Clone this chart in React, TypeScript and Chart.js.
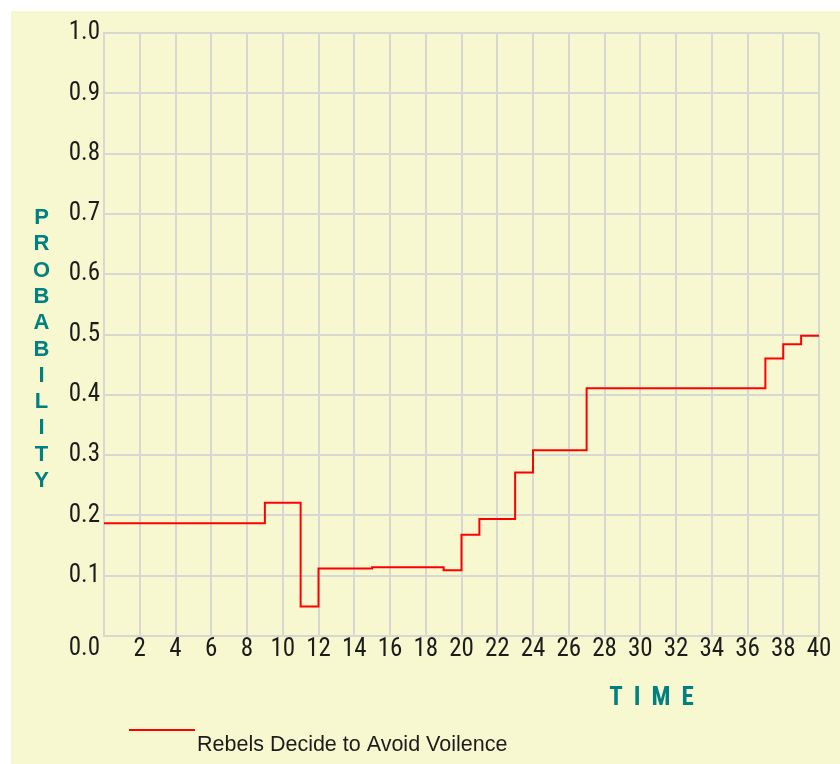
import React, { useEffect, useRef } from "react";
import { Chart, registerables } from "chart.js";

Chart.register(...registerables);

// ---- data ----
const TIME_POINTS = [0, 9, 11, 12, 15, 19, 20, 21, 23, 24, 27, 37, 38, 39, 40];
const PROBABILITY = [0.187, 0.221, 0.049, 0.112, 0.114, 0.109, 0.168, 0.194, 0.271, 0.308, 0.411, 0.46, 0.484, 0.498, 0.498];
const SERIES_LABEL = "Rebels Decide to Avoid Voilence";
const X_TITLE = "TIME";
const Y_TITLE = "PROBABILITY";
const X_MIN = 0;
const X_MAX = 40;
const X_STEP = 2;
const Y_MIN = 0;
const Y_MAX = 1;
const Y_STEP = 0.1;
const ZERO_LABEL = "0.0";

const NARROW = "'Roboto Condensed', 'Liberation Sans Narrow', 'DejaVu Sans Condensed', sans-serif";
const SANS = "'Liberation Sans', Arial, sans-serif";
const TEAL = "#008080";
const TEXT = "#1c1c1c";
const GRID = "#d8d8d2";
const CREAM = "#f8f8d0";
const RED = "#ff0000";

const decorPlugin = {
  id: "decor",
  beforeDraw(chart: any) {
    const ctx = chart.ctx;
    ctx.save();
    ctx.fillStyle = "#ffffff";
    ctx.fillRect(0, 0, chart.width, chart.height);
    ctx.fillStyle = CREAM;
    ctx.fillRect(11, 11, chart.width - 11, chart.height - 11);
    ctx.restore();
  },
  afterDraw(chart: any) {
    const ctx = chart.ctx;
    const ys = chart.scales.y;
    const area = chart.chartArea;
    ctx.save();
    // zero label (shared corner)
    ctx.fillStyle = TEXT;
    ctx.font = `25px ${NARROW}`;
    ctx.textAlign = "right";
    ctx.textBaseline = "middle";
    ctx.fillText(ZERO_LABEL, ys.right - 4, ys.getPixelForValue(0) + 12.5);

    // vertical stacked y title
    ctx.fillStyle = TEAL;
    ctx.font = `bold 22px ${SANS}`;
    ctx.textAlign = "center";
    ctx.textBaseline = "alphabetic";
    const letters = Y_TITLE.split("");
    letters.forEach((ch, i) => {
      ctx.fillText(ch, 41.5, 224 + i * 26.3);
    });

    // x title with letter spacing
    ctx.font = `bold 25px ${NARROW}`;
    ctx.textAlign = "left";
    ctx.textBaseline = "alphabetic";
    const tl = X_TITLE.split("");
    const gap = 11;
    const total = tl.reduce((s, ch) => s + ctx.measureText(ch).width, 0) + gap * (tl.length - 1);
    let x = (area.left + area.right) / 2 + 190 - total / 2;
    tl.forEach((ch) => {
      ctx.fillText(ch, x, 705);
      x += ctx.measureText(ch).width + gap;
    });

    // legend
    const ds = chart.data.datasets[0];
    ctx.strokeStyle = ds.borderColor;
    ctx.lineWidth = 2;
    ctx.beginPath();
    ctx.moveTo(129, 730);
    ctx.lineTo(195, 730);
    ctx.stroke();
    ctx.fillStyle = TEXT;
    ctx.font = `21.5px ${SANS}`;
    ctx.textAlign = "left";
    ctx.textBaseline = "alphabetic";
    ctx.fillText(ds.label, 197, 751);
    ctx.restore();
  },
};

export default function App() {
  const ref = useRef<HTMLCanvasElement>(null);
  useEffect(() => {
    if (!ref.current) return;
    const points = TIME_POINTS.map((t, i) => ({ x: t, y: PROBABILITY[i] }));
    const chart = new Chart(ref.current, {
      type: "line",
      data: {
        datasets: [
          {
            label: SERIES_LABEL,
            data: points,
            borderColor: RED,
            backgroundColor: RED,
            borderWidth: 2,
            stepped: "before",
            pointRadius: 0,
            fill: false,
          },
        ],
      },
      options: {
        animation: false,
        responsive: false,
        devicePixelRatio: 1,
        layout: { padding: { top: 33, right: 21, left: 0, bottom: 0 } },
        plugins: { legend: { display: false }, tooltip: { enabled: false } },
        scales: {
          x: {
            type: "linear",
            min: X_MIN,
            max: X_MAX,
            afterFit: (s: any) => {
              s.height = 128;
            },
            grid: { color: GRID, lineWidth: 2, drawTicks: false },
            border: { color: GRID, width: 2 },
            ticks: {
              stepSize: X_STEP,
              color: TEXT,
              padding: 1,
              maxRotation: 0,
              autoSkip: false,
              font: { family: NARROW, size: 25, lineHeight: 1 },
              callback: (v: any) => (Number(v) === 0 ? "" : String(v)),
            },
          },
          y: {
            min: Y_MIN,
            max: Y_MAX,
            afterFit: (s: any) => {
              s.width = 104;
            },
            grid: { color: GRID, lineWidth: 2, drawTicks: false },
            border: { color: GRID, width: 2 },
            ticks: {
              stepSize: Y_STEP,
              color: TEXT,
              padding: 4,
              autoSkip: false,
              font: { family: NARROW, size: 25, lineHeight: 1 },
              callback: (v: any) => (Math.abs(Number(v)) < 1e-9 ? "" : Number(v).toFixed(1)),
            },
          },
        },
      },
      plugins: [decorPlugin],
    });
    return () => chart.destroy();
  }, []);
  return (
    <div style={{ position: "absolute", left: 0, top: 0, width: 840, height: 764, background: "#fff" }}>
      <canvas ref={ref} width={840} height={764} style={{ display: "block", width: 840, height: 764 }} />
    </div>
  );
}
